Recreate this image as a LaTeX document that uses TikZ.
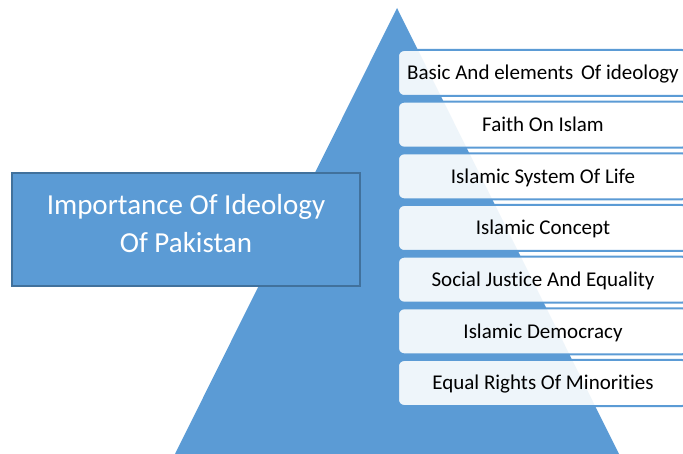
\documentclass[tikz,border=0pt]{standalone}
\usepackage{fontspec}
\setmainfont{Carlito}[Ligatures=NoCommon]
\definecolor{accent}{HTML}{5B9BD5}
\definecolor{accentdark}{HTML}{41719C}
\begin{document}
\begin{tikzpicture}[x=1pt,y=-1pt,
  levelbox/.style={draw=accent, line width=2pt, fill=white, fill opacity=0.9,
    text opacity=1, text=black, rounded corners=6pt,
    minimum width=290pt, minimum height=46pt, inner sep=0pt,
    text height=16pt, text depth=2.5pt,
    font=\fontsize{21}{25}\selectfont},
  titlebox/.style={draw=accentdark, line width=2.3pt, fill=accent,
    minimum width=347.5pt, minimum height=113.2pt, inner sep=0pt},
  titletext/.style={align=center, text=white, inner sep=0pt,
    font=\fontsize{29}{38}\selectfont}]
\useasboundingbox (0,0) rectangle (683,454);
\clip (0,0) rectangle (683,454);

% pyramid
\fill[accent] (397,8) -- (175,454) -- (619,454) -- cycle;

% title block
\node[titlebox] (title) at (186,229.4) {};
\node[titletext] (titletext) at ([yshift=6pt]title.center)
  {Importance Of Ideology\\Of Pakistan};

% levels
\node[levelbox] (b1) at (543,73)     {Basic And elements\hspace{3pt} Of ideology};
\node[levelbox] (b2) at (543,124.67) {Faith On Islam};
\node[levelbox] (b3) at (543,176.33) {Islamic System Of Life};
\node[levelbox] (b4) at (543,228)    {Islamic Concept};
\node[levelbox] (b5) at (543,279.67) {Social Justice And Equality};
\node[levelbox] (b6) at (543,331.33) {Islamic Democracy};
\node[levelbox] (b7) at (543,383)    {Equal Rights Of Minorities};
\end{tikzpicture}
\end{document}
